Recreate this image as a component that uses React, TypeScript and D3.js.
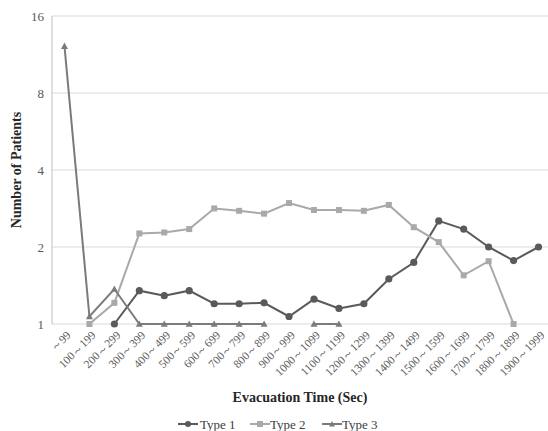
import React from "react";
import * as d3 from "d3";

const categories = ["～99","100～199","200～299","300～399","400～499","500～599","600～699","700～799","800～899","900～999","1000～1099","1100～1199","1200～1299","1300～1399","1400～1499","1500～1599","1600～1699","1700～1799","1800～1899","1900～1999"];
const type1: (number | null)[] = [null, null, 1, 1.35, 1.29, 1.35, 1.2, 1.2, 1.21, 1.07, 1.25, 1.15, 1.2, 1.5, 1.74, 2.53, 2.35, 2, 1.77, 2];
const type2: (number | null)[] = [null, 1, 1.21, 2.26, 2.28, 2.35, 2.83, 2.77, 2.7, 2.97, 2.79, 2.79, 2.77, 2.92, 2.39, 2.09, 1.55, 1.76, 1, null];
const type3: (number | null)[] = [12.2, 1.07, 1.37, 1, 1, 1, 1, 1, 1, null, 1, 1, null, null, null, null, null, null, null, null];
const yTicks = [1, 2, 4, 8, 16];
const seriesNames = ["Type 1", "Type 2", "Type 3"];

const W = 548, H = 431;
const left = 52, top = 16, bottom = 324;
const step = 24.95;
const font = "'Times New Roman', Tinos, 'Liberation Serif', 'DejaVu Serif', 'Noto Serif', serif";

export default function App() {
  const x = d3.scaleBand<string>().domain(categories).range([left, left + step * categories.length]);
  const y = d3.scaleLog().base(2).domain([1, 16]).range([bottom, top]);
  const cx = (c: string) => (x(c) as number) + x.bandwidth() / 2;

  const series = [
    { name: seriesNames[0], data: type1, color: "#5a5a5a", marker: "circle" },
    { name: seriesNames[1], data: type2, color: "#a9a9a9", marker: "square" },
    { name: seriesNames[2], data: type3, color: "#7b7b7b", marker: "triangle" },
  ];

  const line = d3.line<[string, number | null]>()
    .defined(d => d[1] !== null)
    .x(d => cx(d[0]))
    .y(d => y(d[1] as number));

  const marker = (m: string, px: number, py: number, color: string, key: string | number, small = false) => {
    if (m === "circle") return <circle key={key} cx={px} cy={py} r={small ? 3 : 3.6} fill={color} />;
    if (m === "square") return <rect key={key} x={px - 3} y={py - 3} width={6} height={6} fill={color} />;
    const s = small ? 3 : 3.5;
    return <path key={key} d={`M${px},${py - s}L${px + s},${py + s * 0.8}L${px - s},${py + s * 0.8}Z`} fill={color} />;
  };

  const legendItems = [
    { x: 178, textX: 200 },
    { x: 250, textX: 270 },
    { x: 322, textX: 342 },
  ];

  return (
    <svg width={W} height={H} style={{ position: "absolute", left: 0, top: 0, background: "#fff", fontFamily: font }}>
      {yTicks.map(t => (
        <g key={t}>
          <line x1={left} x2={W} y1={y(t)} y2={y(t)} stroke="#d9d9d9" strokeWidth={1.2} />
          <text x={44} y={y(t)} dy="0.35em" textAnchor="end" fontSize={13} fill="#595959">{t}</text>
        </g>
      ))}
      <line x1={left} x2={left} y1={top} y2={bottom} stroke="#bfbfbf" strokeWidth={1} />
      {categories.map(c => (
        <text key={c} transform={`translate(${cx(c) + 4},${bottom + 9}) rotate(-45)`} textAnchor="end" dy="0.35em" fontSize={11.5} fill="#595959">{c}</text>
      ))}
      {series.map(s => {
        const pts = categories.map((c, i) => [c, s.data[i]] as [string, number | null]);
        return (
          <g key={s.name}>
            <path d={line(pts) || ""} fill="none" stroke={s.color} strokeWidth={2} />
            {pts.filter(p => p[1] !== null).map((p, i) => marker(s.marker, cx(p[0]), y(p[1] as number), s.color, i))}
          </g>
        );
      })}
      <text x={300} y={402} textAnchor="middle" fontSize={14} fontWeight="bold" fill="#262626">Evacuation Time (Sec)</text>
      <text transform={`translate(21,${(top + bottom) / 2}) rotate(-90)`} textAnchor="middle" fontSize={14} fontWeight="bold" fill="#262626">Number of Patients</text>
      {series.map((s, i) => (
        <g key={s.name}>
          <line x1={legendItems[i].x} x2={legendItems[i].x + 20} y1={424} y2={424} stroke={s.color} strokeWidth={2} />
          {marker(s.marker, legendItems[i].x + 10, 424, s.color, "m", true)}
          <text x={legendItems[i].textX} y={424} dy="0.35em" fontSize={13} fill="#404040">{s.name}</text>
        </g>
      ))}
    </svg>
  );
}
